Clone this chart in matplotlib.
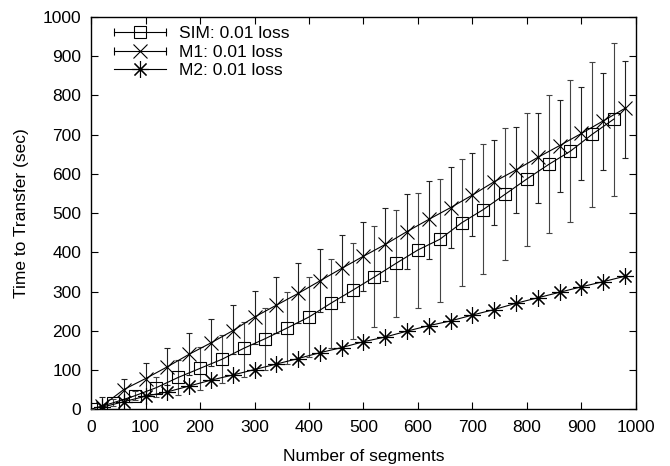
import numpy as np
import matplotlib
matplotlib.use("Agg")
import matplotlib.pyplot as plt
from matplotlib.lines import Line2D
from matplotlib.legend_handler import HandlerLine2D

plt.rcParams['font.family'] = ['Liberation Sans', 'DejaVu Sans']

# SIM: mean with min/max style error range
x_sim = np.arange(0, 1000, 40)
sim = [0, 16, 34, 55, 81, 104, 127, 155, 180, 207, 235, 270, 303, 337, 372,
       406, 433, 475, 509, 548, 587, 624, 658, 701, 740]
sim_hi = [0, 25, 47, 81, 125, 159, 189, 223, 259, 299, 338, 382, 423, 467, 508,
          552, 588, 637, 675, 716, 756, 801, 839, 884, 934]
sim_lo = [0, 8, 23, 31, 36, 50, 66, 82, 99, 116, 133, 155, 180, 210, 234,
          257, 274, 314, 344, 380, 416, 448, 477, 516, 544]

# M1 / M2 model predictions
x_m = np.arange(20, 1000, 40)
m1 = [8, 50, 78, 108, 140, 169, 200, 235, 265, 295, 327, 359, 390, 420, 453,
      484, 514, 546, 580, 610, 642, 672, 703, 735, 767]
m1_hi = [31, 76, 118, 156, 193, 231, 265, 302, 338, 373, 409, 444, 478, 514, 548,
         583, 618, 652, 686, 720, 754, 788, 822, 856, 888]
m1_lo = [0, 27, 37, 61, 88, 110, 140, 167, 195, 220, 248, 274, 302, 327, 357,
         384, 412, 441, 469, 499, 526, 554, 584, 611, 641]
m2 = [5, 19, 33, 44, 59, 74, 87, 101, 115, 129, 144, 157, 172, 184, 199,
      213, 225, 240, 254, 270, 284, 298, 312, 325, 339]

labels = ['SIM: 0.01 loss', 'M1: 0.01 loss', 'M2: 0.01 loss']

sim = np.array(sim)
m1 = np.array(m1)
sim_err = [sim - np.array(sim_lo), np.array(sim_hi) - sim]
m1_err = [m1 - np.array(m1_lo), np.array(m1_hi) - m1]

fig = plt.figure(figsize=(6.7, 4.66), dpi=100)
ax = fig.add_axes([0.136, 0.122, 0.813, 0.8415])

lw = 0.8
fs = 12.5
ax.errorbar(x_sim, sim, yerr=sim_err, color='black', ecolor='#444444',
            lw=lw, elinewidth=lw, capsize=2.2, capthick=lw,
            marker='s', ms=8.5, mfc='none', mec='black', mew=lw, zorder=3)
ax.errorbar(x_m, m1, yerr=m1_err, color='black', ecolor='#222222',
            lw=lw, elinewidth=lw, capsize=2.2, capthick=lw,
            marker='x', ms=10, mew=lw, zorder=3)
h3, = ax.plot(x_m, m2, color='black', lw=lw, marker=(8, 2, 0), ms=12, mew=lw,
              zorder=3)

ax.set_xlim(0, 1000)
ax.set_ylim(0, 1000)
ax.set_xticks(np.arange(0, 1001, 100))
ax.set_yticks(np.arange(0, 1001, 100))
ax.tick_params(direction='in', length=5, width=0.8, top=True, right=True,
               labelsize=fs)
ax.tick_params(axis='x', pad=8)
ax.tick_params(axis='y', pad=7)
for s in ax.spines.values():
    s.set_linewidth(1.0)

ax.set_xlabel('Number of segments', fontsize=fs, labelpad=10)
ax.set_ylabel('Time to Transfer (sec)', fontsize=fs, labelpad=10)

# gnuplot-style keys: line with end caps for the error-bar series
k1 = Line2D([], [], color='black', lw=lw, marker='s', ms=8.5, mfc='none', mew=lw)
k2 = Line2D([], [], color='black', lw=lw, marker='x', ms=10, mew=lw)
c1 = Line2D([], [], lw=0, color='black', marker='|', ms=6, mew=lw)
c2 = Line2D([], [], lw=0, color='black', marker='|', ms=6, mew=lw)
caps = HandlerLine2D(numpoints=2, marker_pad=0)
ax.legend([(k1, c1), (k2, c2), h3], labels,
          handler_map={c1: caps, c2: caps},
          loc='upper left', frameon=False, fontsize=fs, handlelength=3.0,
          handletextpad=0.7, labelspacing=0.2, borderaxespad=0.0,
          bbox_to_anchor=(0.03, 0.995))

fig.savefig('out.png', dpi=100)
